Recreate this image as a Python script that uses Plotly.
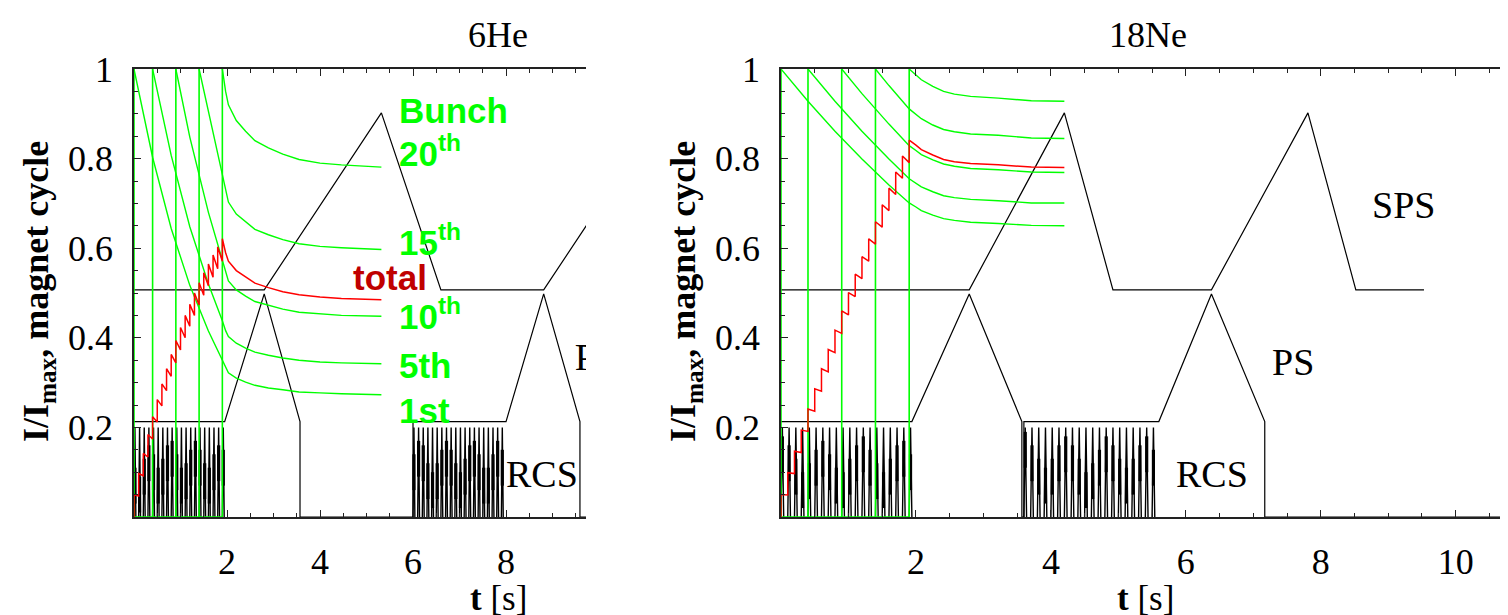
import plotly.graph_objects as go

W, H = 1508, 615

# ---------------- shared data ----------------
bunch_times = [0.0, 0.4, 0.9, 1.4, 1.9]          # 1st, 5th, 10th, 15th, 20th bunch
inj_times = [0.0, 0.1, 0.2, 0.3, 0.4, 0.5, 0.6, 0.7, 0.8, 0.9,
             1.0, 1.1, 1.2, 1.3, 1.4, 1.5, 1.6, 1.7, 1.8, 1.9]
rcs_rise = 0.02      # duration of RCS ramp up (and down) within each 0.1 s cycle
rcs_top = 0.2
rcs_blob_half = 0.04  # half height of the dark (aliased) band on each RCS stroke

# ---------------- 6He (left) ----------------
L_pre_t = [[0.0, 0.4, 0.8, 1.2, 1.6], [0.4, 0.8, 1.2, 1.6], [0.9, 1.2, 1.6], [1.4, 1.6], [1.9]]
L_pre_y = [[1.0, 0.803, 0.644, 0.517, 0.415], [1.0, 0.807, 0.648, 0.520],
           [1.0, 0.848, 0.680], [1.0, 0.906], [1.0]]
L_post_t = [1.9, 1.97, 2.03, 2.2, 2.4, 2.6, 2.89, 3.2, 3.55, 4.0, 4.46, 5.32]
L_post_y = [
    [0.350, 0.333, 0.322, 0.310, 0.301, 0.294, 0.288, 0.284, 0.279, 0.277, 0.275, 0.273],
    [0.438, 0.416, 0.403, 0.388, 0.377, 0.368, 0.361, 0.355, 0.350, 0.346, 0.344, 0.342],
    [0.573, 0.544, 0.527, 0.507, 0.493, 0.481, 0.472, 0.464, 0.457, 0.453, 0.450, 0.448],
    [0.764, 0.726, 0.703, 0.676, 0.658, 0.642, 0.630, 0.619, 0.610, 0.604, 0.601, 0.597],
    [1.0, 0.95, 0.92, 0.885, 0.861, 0.84, 0.824, 0.81, 0.798, 0.79, 0.786, 0.781]]
L_tot_after = [0.050, 0.097, 0.142, 0.184, 0.224, 0.262, 0.297, 0.331, 0.363, 0.394,
               0.423, 0.450, 0.475, 0.500, 0.523, 0.545, 0.565, 0.585, 0.603, 0.621]
L_tot_before = [0.047, 0.092, 0.134, 0.174, 0.212, 0.248, 0.282, 0.314, 0.344, 0.373,
                0.400, 0.426, 0.450, 0.473, 0.495, 0.516, 0.535, 0.554, 0.571]
L_tot_post = [0.621, 0.590, 0.571, 0.550, 0.535, 0.522, 0.512, 0.503, 0.496, 0.491, 0.488, 0.485]
L_sps_t = [0.0, 2.8, 5.32, 6.6, 8.81, 10.0]
L_sps_y = [0.507, 0.507, 0.902, 0.507, 0.507, 0.693]
L_ps_t = [0.0, 1.95, 2.8, 3.57, 3.57, 6.0, 6.0, 8.0, 8.81, 9.59, 9.59, 10.0]
L_ps_y = [0.213, 0.213, 0.498, 0.213, 0.0, 0.0, 0.213, 0.213, 0.498, 0.213, 0.0, 0.0]
L_rcs_starts = [[0.0, 0.1, 0.2, 0.3, 0.4, 0.5, 0.6, 0.7, 0.8, 0.9,
                 1.0, 1.1, 1.2, 1.3, 1.4, 1.5, 1.6, 1.7, 1.8, 1.9],
                [6.0, 6.1, 6.2, 6.3, 6.4, 6.5, 6.6, 6.7, 6.8, 6.9,
                 7.0, 7.1, 7.2, 7.3, 7.4, 7.5, 7.6, 7.7, 7.8, 7.9]]
L_rcs_blob = [[0.07, 0.05, 0.09, 0.12, 0.10, 0.07, 0.09, 0.12, 0.13, 0.10,
               0.07, 0.08, 0.11, 0.13, 0.11, 0.08, 0.07, 0.10, 0.12, 0.11],
              [0.10, 0.13, 0.12, 0.08, 0.06, 0.08, 0.11, 0.13, 0.11, 0.08,
               0.06, 0.09, 0.12, 0.13, 0.10, 0.07, 0.07, 0.10, 0.13, 0.11]]

# ---------------- 18Ne (right) ----------------
R_pre_t = [[0.0, 0.4, 0.8, 1.2, 1.6], [0.4, 0.8, 1.2, 1.6], [0.9, 1.2, 1.6], [1.4, 1.6], [1.9]]
R_pre_y = [[1.0, 0.928, 0.861, 0.799, 0.741], [1.0, 0.928, 0.861, 0.799],
           [1.0, 0.945, 0.877], [1.0, 0.963], [1.0]]
R_post_t = [1.9, 2.0, 2.08, 2.25, 2.41, 2.57, 2.81, 3.22, 3.71, 4.2]
R_post_y = [
    [0.701, 0.692, 0.684, 0.674, 0.666, 0.662, 0.658, 0.655, 0.651, 0.650],
    [0.755, 0.745, 0.737, 0.726, 0.717, 0.713, 0.709, 0.706, 0.701, 0.701],
    [0.829, 0.818, 0.809, 0.797, 0.788, 0.783, 0.778, 0.775, 0.770, 0.769],
    [0.911, 0.899, 0.889, 0.875, 0.865, 0.860, 0.855, 0.852, 0.846, 0.845],
    [1.0, 0.987, 0.976, 0.961, 0.95, 0.944, 0.939, 0.935, 0.929, 0.928]]
R_tot_after = [0.050, 0.099, 0.147, 0.194, 0.241, 0.286, 0.331, 0.374, 0.417, 0.460,
               0.501, 0.542, 0.581, 0.621, 0.659, 0.697, 0.734, 0.770, 0.806, 0.841]
R_tot_before = [0.049, 0.097, 0.144, 0.191, 0.236, 0.281, 0.324, 0.367, 0.410, 0.451,
                0.492, 0.532, 0.571, 0.609, 0.647, 0.684, 0.720, 0.756, 0.791]
R_tot_post = [0.841, 0.830, 0.820, 0.808, 0.798, 0.793, 0.789, 0.786, 0.781, 0.780]
R_sps_t = [0.0, 2.79, 4.2, 4.92, 6.38, 7.81, 8.52, 9.53]
R_sps_y = [0.507, 0.507, 0.902, 0.507, 0.507, 0.902, 0.507, 0.507]
R_ps_t = [0.0, 1.94, 2.79, 3.57, 3.57, 3.6, 3.6, 5.6, 6.38, 7.17, 7.17, 10.8]
R_ps_y = [0.213, 0.213, 0.498, 0.213, 0.0, 0.0, 0.213, 0.213, 0.498, 0.213, 0.0, 0.0]
R_rcs_starts = [[0.0, 0.1, 0.2, 0.3, 0.4, 0.5, 0.6, 0.7, 0.8, 0.9,
                 1.0, 1.1, 1.2, 1.3, 1.4, 1.5, 1.6, 1.7, 1.8, 1.9],
                [3.6, 3.7, 3.8, 3.9, 4.0, 4.1, 4.2, 4.3, 4.4, 4.5,
                 4.6, 4.7, 4.8, 4.9, 5.0, 5.1, 5.2, 5.3, 5.4, 5.5]]
R_rcs_blob = [[0.14, 0.12, 0.09, 0.06, 0.08, 0.11, 0.13, 0.10, 0.07, 0.06,
               0.09, 0.12, 0.14, 0.11, 0.08, 0.06, 0.09, 0.12, 0.13, 0.10],
              [0.15, 0.12, 0.09, 0.07, 0.09, 0.12, 0.14, 0.12, 0.09, 0.06,
               0.08, 0.11, 0.14, 0.12, 0.09, 0.07, 0.09, 0.12, 0.14, 0.11]]

x_ticks_L = [2, 4, 6, 8]
x_ticks_R = [2, 4, 6, 8, 10]
y_ticks = [0.2, 0.4, 0.6, 0.8, 1.0]
y_ticktext = ["0.2", "0.4", "0.6", "0.8", "1"]

GREEN = "#00ff00"
RED = "#ff0000"
SERIF = "Liberation Serif"
SANS = "Liberation Sans"


def line(xs, ys, color, width, xa, ya):
    return go.Scatter(x=xs, y=ys, mode="lines", line=dict(color=color, width=width),
                      xaxis=xa, yaxis=ya, hoverinfo="skip", showlegend=False)


def panel_traces(xa, ya, sps_t, sps_y, ps_t, ps_y, rcs_starts, rcs_blob,
                 pre_t, pre_y, post_t, post_y, tot_after, tot_before, tot_post):
    tr = []
    # RCS fast cycles (narrow spikes, one per 0.1 s cycle)
    rx, ry = [], []
    bx, by = [], []
    for block, blobs in zip(rcs_starts, rcs_blob):
        for s, b in zip(block, blobs):
            rx += [s, s + rcs_rise, s + 2 * rcs_rise, None]
            ry += [0, rcs_top, 0, None]
            bx += [s + rcs_rise, s + rcs_rise, None]
            by += [b - rcs_blob_half, b + rcs_blob_half, None]
    tr.append(line(rx, ry, "black", 1.4, xa, ya))
    tr.append(line(bx, by, "black", 3.2, xa, ya))
    tr.append(line(ps_t, ps_y, "black", 1.2, xa, ya))
    tr.append(line(sps_t, sps_y, "black", 1.2, xa, ya))
    # green injection verticals + baseline
    gx, gy = [], []
    for t in bunch_times:
        gx += [t, t, None]
        gy += [0, 1, None]
    gx += [bunch_times[0], bunch_times[-1]]
    gy += [0, 0]
    tr.append(line(gx, gy, GREEN, 1.6, xa, ya))
    # green bunch curves
    for i in range(len(bunch_times)):
        xs = list(pre_t[i]) + list(post_t)
        ys = list(pre_y[i]) + list(post_y[i])
        tr.append(line(xs, ys, GREEN, 1.4, xa, ya))
    # red total staircase
    tx, ty = [inj_times[0]], [0.0]
    for k, t in enumerate(inj_times):
        tx.append(t)
        ty.append(tot_after[k])
        if k < len(tot_before):
            tx.append(inj_times[k + 1])
            ty.append(tot_before[k])
    tx += list(post_t[1:])
    ty += list(tot_post[1:])
    tr.append(line(tx, ty, RED, 1.5, xa, ya))
    return tr


fig = go.Figure()
for t in panel_traces("x", "y", L_sps_t, L_sps_y, L_ps_t, L_ps_y, L_rcs_starts, L_rcs_blob,
                      L_pre_t, L_pre_y, L_post_t, L_post_y, L_tot_after, L_tot_before, L_tot_post):
    fig.add_trace(t)
for t in panel_traces("x2", "y2", R_sps_t, R_sps_y, R_ps_t, R_ps_y, R_rcs_starts, R_rcs_blob,
                      R_pre_t, R_pre_y, R_post_t, R_post_y, R_tot_after, R_tot_before, R_tot_post):
    fig.add_trace(t)

# "PS" label of the left panel, cut by the panel edge as in the cropped original
fig.add_trace(go.Scatter(x=[9.48], y=[0.35], mode="text", text=["PS"], textposition="middle right",
                         textfont=dict(family=SERIF, size=38, color="black"), cliponaxis=True,
                         xaxis="x", yaxis="y", hoverinfo="skip", showlegend=False))

ydom = [(H - 509) / H, (H - 61) / H]
tickfont = dict(family=SERIF, size=36, color="black")
common_x = dict(showline=True, linecolor="#222", linewidth=1.6, ticks="inside", ticklen=7,
                tickwidth=1.4, tickcolor="#222", showgrid=False, zeroline=False,
                tickfont=tickfont, automargin=False, ticklabelstandoff=12,
                minor=dict(dtick=0.5, tick0=0, ticks="inside", ticklen=4, tickwidth=1.4,
                           tickcolor="#222", showgrid=False))
common_y = dict(showline=True, linecolor="#222", linewidth=1.6, ticks="inside", ticklen=7,
                tickwidth=1.4, tickcolor="#222", showgrid=False, zeroline=False,
                tickfont=tickfont, automargin=False, range=[0, 1], domain=ydom,
                tickvals=y_ticks, ticktext=y_ticktext, ticklabelstandoff=12,
                minor=dict(dtick=0.05, tick0=0, ticks="inside", ticklen=4, tickwidth=1.4,
                           tickcolor="#222", showgrid=False))

fig.update_layout(
    width=W, height=H,
    margin=dict(l=0, r=0, t=0, b=0, pad=0),
    paper_bgcolor="white", plot_bgcolor="white",
    showlegend=False,
    xaxis=dict(common_x, domain=[126 / W, 578 / W], range=[0, 9.72],
               tickvals=x_ticks_L, anchor="y", mirror="allticks"),
    yaxis=dict(common_y, anchor="x", mirror=False),
    xaxis2=dict(common_x, domain=[773 / W, 1501 / W], range=[0, 10.79],
                tickvals=x_ticks_R, anchor="y2", mirror="allticks"),
    yaxis2=dict(common_y, anchor="x2", mirror="allticks"),
)


def ann(text, x, y, size, color="black", family=SERIF, xanchor="center", yanchor="middle", angle=0):
    fig.add_annotation(text=text, x=x / W, y=1 - y / H, xref="paper", yref="paper",
                       showarrow=False, xanchor=xanchor, yanchor=yanchor, textangle=angle,
                       font=dict(family=family, size=size, color=color))


# titles and axis labels
ann("6He", 490, 27, 36)
ann("18Ne", 1140, 27, 36)
ann("<b>t</b> [s]", 490, 590, 35)
ann("<b>t</b> [s]", 1137, 590, 35)
ann("<b>I/I<sub>max</sub>, magnet cycle</b>", 30, 284, 36, angle=-90)
ann("<b>I/I<sub>max</sub>, magnet cycle</b>", 677, 284, 36, angle=-90)

# machine labels
ann("SPS", 1395, 197, 38)
ann("PS", 1285, 354, 38)
ann("RCS", 1204, 466, 38)
ann("RCS", 534, 466, 38)

# bunch labels (left)
ann("<b>Bunch</b>", 389, 102, 35, GREEN, SANS, xanchor="left")
ann("<b>20<sup>th</sup></b>", 389, 143, 35, GREEN, SANS, xanchor="left")
ann("<b>15<sup>th</sup></b>", 389, 232, 35, GREEN, SANS, xanchor="left")
ann("<b>total</b>", 343, 270, 35, "#c00000", SANS, xanchor="left")
ann("<b>10<sup>th</sup></b>", 389, 306, 35, GREEN, SANS, xanchor="left")
ann("<b>5th</b>", 389, 357, 35, GREEN, SANS, xanchor="left")
ann("<b>1st</b>", 389, 402, 35, GREEN, SANS, xanchor="left")

fig.write_html("out.html")
